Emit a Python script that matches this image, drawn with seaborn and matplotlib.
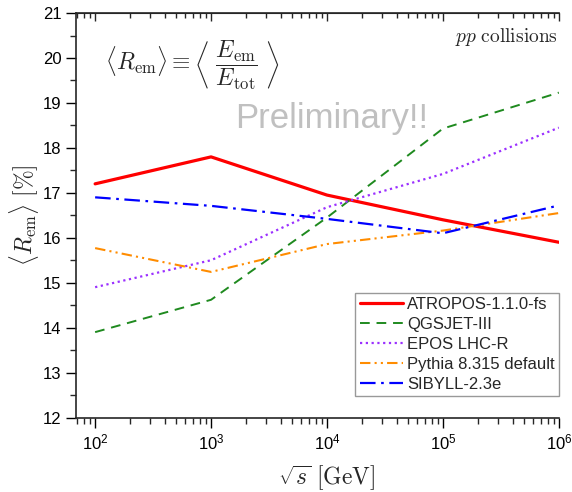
import numpy as np
import pandas as pd
import seaborn as sb
import matplotlib.pyplot as plt
from matplotlib.ticker import MultipleLocator

# energies sqrt(s) in GeV
energy = [1e2, 1e3, 1e4, 1e5, 1e6]

atropos = [17.2, 17.8, 16.95, 16.4, 15.9]
qgsjet = [13.9, 14.62, 16.45, 18.43, 19.23]
epos = [14.9, 15.5, 16.68, 17.42, 18.45]
pythia = [15.77, 15.24, 15.86, 16.16, 16.55]
sibyll = [16.9, 16.71, 16.42, 16.1, 16.72]

models = ['ATROPOS-1.1.0-fs', 'QGSJET-III', 'EPOS LHC-R', 'Pythia 8.315 default', 'SIBYLL-2.3e']
values = [atropos, qgsjet, epos, pythia, sibyll]
colors = ['#ff0000', '#1f8a1f', '#9b30ff', '#ff8c00', '#0000ff']
styles = ['-', (0, (5, 3.5)), (0, (1, 1.6)), (0, (5, 2, 1, 2, 1, 2)), (0, (7, 2.5, 1.2, 2.5))]
widths = [2.3, 1.4, 1.6, 1.5, 1.6]

sb.set_style('ticks')
plt.rcParams['font.family'] = ['Liberation Sans', 'DejaVu Sans']
plt.rcParams['mathtext.fontset'] = 'cm'

rows = []
for m, v in zip(models, values):
    for e, r in zip(energy, v):
        rows.append((m, e, r))
df = pd.DataFrame(rows, columns=['model', 'energy', 'R'])

fig = plt.figure(figsize=(5.72, 4.92), dpi=100)
ax = fig.add_axes([0.133, 0.1514, 0.844, 0.822])

for m, c, ls, lw in zip(models, colors, styles, widths):
    sub = df[df.model == m]
    sb.lineplot(data=sub, x='energy', y='R', ax=ax, color=c, linestyle=ls,
                linewidth=lw, label=m, errorbar=None)

ax.set_xscale('log')
ax.set_xlim(68.5, 1e6)
ax.set_ylim(12, 21)
ax.yaxis.set_major_locator(MultipleLocator(1))
ax.yaxis.set_minor_locator(MultipleLocator(0.5))

for s in ['left', 'bottom', 'top']:
    ax.spines[s].set_linewidth(1.2)
ax.spines['right'].set_visible(False)
ax.tick_params(which='major', direction='out', length=7, width=1, labelsize=12, colors='black')
ax.tick_params(which='minor', direction='out', length=4, width=1)

top = ax.secondary_xaxis('top')
top.tick_params(which='major', direction='in', length=6, width=1, labeltop=False)
top.tick_params(which='minor', direction='in', length=3.5, width=1)
top.set_xticklabels([])

ax.set_xlabel(r'$\sqrt{s}\ [\mathrm{GeV}]$', fontsize=17)
ax.xaxis.set_label_coords(0.52, -0.115)
ax.set_ylabel(r'$\langle R_{\mathrm{em}}\rangle\ [\%]$', fontsize=17, labelpad=1)

ax.text(0.06, 0.87, r'$\langle R_{\mathrm{em}}\rangle \equiv \left\langle\ \dfrac{E_{\mathrm{em}}}{E_{\mathrm{tot}}}\ \right\rangle$',
        transform=ax.transAxes, fontsize=17, va='center', ha='left')
ax.text(0.998, 0.94, r'$pp\ \mathrm{collisions}$', transform=ax.transAxes,
        fontsize=14, va='center', ha='right')
ax.text(0.329, 0.716, 'Preliminary!!', transform=ax.transAxes, fontsize=25,
        color='#c0c0c0', ha='left', va='baseline')

leg = ax.legend(loc='lower right', bbox_to_anchor=(1.0, 0.053), borderaxespad=0,
                fontsize=12, frameon=True, fancybox=False, handlelength=2.6,
                handletextpad=0.25, borderpad=0.25, labelspacing=0.3)
leg.get_frame().set_edgecolor('#808080')
leg.get_frame().set_linewidth(1.0)

fig.savefig('out.png', dpi=100)
